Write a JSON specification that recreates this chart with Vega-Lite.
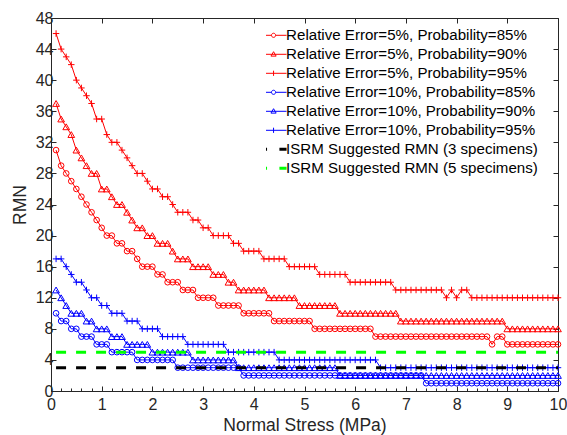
{
  "$schema": "https://vega.github.io/schema/vega-lite/v6.json",
  "width": 507,
  "height": 373,
  "autosize": "none",
  "padding": {"left": 51, "top": 18, "right": 9, "bottom": 44},
  "config": {
    "font": "Liberation Sans",
    "view": {"stroke": null},
    "axis": {"grid": false, "domainColor": "#262626", "tickColor": "#262626", "labelColor": "#262626", "titleColor": "#262626", "labelFontSize": 16, "titleFontSize": 17.5, "titleFontWeight": "normal", "domainWidth": 1, "tickWidth": 1}
  },
  "datasets": {
    "curves": [
      {"x":0.1,"r85":31,"r90":37,"r95":46,"b85":10,"b90":13,"b95":17},
      {"x":0.2,"r85":29,"r90":35,"r95":44,"b85":9,"b90":12,"b95":17},
      {"x":0.3,"r85":28,"r90":34,"r95":43,"b85":9,"b90":11,"b95":16},
      {"x":0.4,"r85":27,"r90":33,"r95":42,"b85":8,"b90":10,"b95":15},
      {"x":0.5,"r85":26,"r90":31,"r95":40,"b85":8,"b90":10,"b95":14},
      {"x":0.6,"r85":25,"r90":30,"r95":39,"b85":7,"b90":10,"b95":14},
      {"x":0.7,"r85":24,"r90":29,"r95":38,"b85":7,"b90":9,"b95":13},
      {"x":0.8,"r85":23,"r90":28,"r95":37,"b85":7,"b90":9,"b95":12},
      {"x":0.9,"r85":22,"r90":28,"r95":35,"b85":6,"b90":8,"b95":12},
      {"x":1.0,"r85":21,"r90":26,"r95":35,"b85":6,"b90":8,"b95":11},
      {"x":1.1,"r85":20,"r90":26,"r95":33,"b85":6,"b90":8,"b95":11},
      {"x":1.2,"r85":20,"r90":25,"r95":32,"b85":5,"b90":7,"b95":10},
      {"x":1.3,"r85":19,"r90":24,"r95":32,"b85":5,"b90":7,"b95":10},
      {"x":1.4,"r85":19,"r90":24,"r95":31,"b85":5,"b90":7,"b95":10},
      {"x":1.5,"r85":18,"r90":23,"r95":30,"b85":5,"b90":6,"b95":9},
      {"x":1.6,"r85":18,"r90":22,"r95":29,"b85":5,"b90":6,"b95":9},
      {"x":1.7,"r85":17,"r90":21,"r95":28,"b85":4,"b90":6,"b95":9},
      {"x":1.8,"r85":16,"r90":21,"r95":28,"b85":4,"b90":6,"b95":8},
      {"x":1.9,"r85":16,"r90":20,"r95":27,"b85":4,"b90":6,"b95":8},
      {"x":2.0,"r85":16,"r90":20,"r95":26,"b85":4,"b90":5,"b95":8},
      {"x":2.1,"r85":15,"r90":19,"r95":26,"b85":4,"b90":5,"b95":8},
      {"x":2.2,"r85":15,"r90":19,"r95":25,"b85":4,"b90":5,"b95":7},
      {"x":2.3,"r85":14,"r90":19,"r95":25,"b85":4,"b90":5,"b95":7},
      {"x":2.4,"r85":14,"r90":18,"r95":24,"b85":4,"b90":5,"b95":7},
      {"x":2.5,"r85":14,"r90":17,"r95":23,"b85":3,"b90":5,"b95":7},
      {"x":2.6,"r85":13,"r90":17,"r95":23,"b85":3,"b90":5,"b95":7},
      {"x":2.7,"r85":13,"r90":17,"r95":23,"b85":3,"b90":5,"b95":6},
      {"x":2.8,"r85":13,"r90":16,"r95":22,"b85":3,"b90":4,"b95":6},
      {"x":2.9,"r85":12,"r90":16,"r95":22,"b85":3,"b90":4,"b95":6},
      {"x":3.0,"r85":12,"r90":16,"r95":21,"b85":3,"b90":4,"b95":6},
      {"x":3.1,"r85":12,"r90":16,"r95":21,"b85":3,"b90":4,"b95":6},
      {"x":3.2,"r85":12,"r90":15,"r95":20,"b85":3,"b90":4,"b95":6},
      {"x":3.3,"r85":11,"r90":15,"r95":20,"b85":3,"b90":4,"b95":6},
      {"x":3.4,"r85":11,"r90":15,"r95":20,"b85":3,"b90":4,"b95":6},
      {"x":3.5,"r85":11,"r90":14,"r95":20,"b85":3,"b90":4,"b95":5},
      {"x":3.6,"r85":11,"r90":14,"r95":19,"b85":3,"b90":4,"b95":5},
      {"x":3.7,"r85":11,"r90":13,"r95":19,"b85":3,"b90":3,"b95":5},
      {"x":3.8,"r85":10,"r90":13,"r95":18,"b85":2,"b90":3,"b95":5},
      {"x":3.9,"r85":10,"r90":13,"r95":18,"b85":2,"b90":3,"b95":5},
      {"x":4.0,"r85":10,"r90":13,"r95":18,"b85":2,"b90":3,"b95":5},
      {"x":4.1,"r85":10,"r90":13,"r95":18,"b85":2,"b90":3,"b95":5},
      {"x":4.2,"r85":10,"r90":13,"r95":17,"b85":2,"b90":3,"b95":5},
      {"x":4.3,"r85":10,"r90":12,"r95":17,"b85":2,"b90":3,"b95":5},
      {"x":4.4,"r85":9,"r90":12,"r95":17,"b85":2,"b90":3,"b95":5},
      {"x":4.5,"r85":9,"r90":12,"r95":17,"b85":2,"b90":3,"b95":4},
      {"x":4.6,"r85":9,"r90":12,"r95":17,"b85":2,"b90":3,"b95":4},
      {"x":4.7,"r85":9,"r90":12,"r95":16,"b85":2,"b90":3,"b95":4},
      {"x":4.8,"r85":9,"r90":12,"r95":16,"b85":2,"b90":3,"b95":4},
      {"x":4.9,"r85":9,"r90":11,"r95":16,"b85":2,"b90":3,"b95":4},
      {"x":5.0,"r85":9,"r90":11,"r95":16,"b85":2,"b90":3,"b95":4},
      {"x":5.1,"r85":9,"r90":11,"r95":16,"b85":2,"b90":3,"b95":4},
      {"x":5.2,"r85":8,"r90":11,"r95":16,"b85":2,"b90":3,"b95":4},
      {"x":5.3,"r85":8,"r90":11,"r95":15,"b85":2,"b90":3,"b95":4},
      {"x":5.4,"r85":8,"r90":11,"r95":15,"b85":2,"b90":3,"b95":4},
      {"x":5.5,"r85":8,"r90":11,"r95":15,"b85":2,"b90":3,"b95":4},
      {"x":5.6,"r85":8,"r90":11,"r95":15,"b85":2,"b90":3,"b95":4},
      {"x":5.7,"r85":8,"r90":10,"r95":15,"b85":2,"b90":2,"b95":4},
      {"x":5.8,"r85":8,"r90":10,"r95":15,"b85":2,"b90":2,"b95":4},
      {"x":5.9,"r85":8,"r90":10,"r95":14,"b85":2,"b90":2,"b95":4},
      {"x":6.0,"r85":8,"r90":10,"r95":14,"b85":2,"b90":2,"b95":4},
      {"x":6.1,"r85":8,"r90":10,"r95":14,"b85":2,"b90":2,"b95":4},
      {"x":6.2,"r85":8,"r90":10,"r95":14,"b85":2,"b90":2,"b95":4},
      {"x":6.3,"r85":8,"r90":10,"r95":14,"b85":2,"b90":2,"b95":4},
      {"x":6.4,"r85":7,"r90":10,"r95":14,"b85":2,"b90":2,"b95":4},
      {"x":6.5,"r85":7,"r90":10,"r95":14,"b85":2,"b90":2,"b95":3},
      {"x":6.6,"r85":7,"r90":10,"r95":14,"b85":2,"b90":2,"b95":3},
      {"x":6.7,"r85":7,"r90":10,"r95":14,"b85":2,"b90":2,"b95":3},
      {"x":6.8,"r85":7,"r90":10,"r95":13,"b85":2,"b90":2,"b95":3},
      {"x":6.9,"r85":7,"r90":9,"r95":13,"b85":2,"b90":2,"b95":3},
      {"x":7.0,"r85":7,"r90":9,"r95":13,"b85":2,"b90":2,"b95":3},
      {"x":7.1,"r85":7,"r90":9,"r95":13,"b85":2,"b90":2,"b95":3},
      {"x":7.2,"r85":7,"r90":9,"r95":13,"b85":2,"b90":2,"b95":3},
      {"x":7.3,"r85":7,"r90":9,"r95":13,"b85":2,"b90":2,"b95":3},
      {"x":7.4,"r85":7,"r90":9,"r95":13,"b85":1,"b90":2,"b95":3},
      {"x":7.5,"r85":7,"r90":9,"r95":13,"b85":1,"b90":2,"b95":3},
      {"x":7.6,"r85":7,"r90":9,"r95":13,"b85":1,"b90":2,"b95":3},
      {"x":7.7,"r85":7,"r90":9,"r95":13,"b85":1,"b90":2,"b95":3},
      {"x":7.8,"r85":7,"r90":9,"r95":12,"b85":1,"b90":2,"b95":3},
      {"x":7.9,"r85":7,"r90":9,"r95":13,"b85":1,"b90":2,"b95":3},
      {"x":8.0,"r85":7,"r90":9,"r95":12,"b85":1,"b90":2,"b95":3},
      {"x":8.1,"r85":7,"r90":9,"r95":13,"b85":1,"b90":2,"b95":3},
      {"x":8.2,"r85":7,"r90":9,"r95":13,"b85":1,"b90":2,"b95":3},
      {"x":8.3,"r85":7,"r90":9,"r95":12,"b85":1,"b90":2,"b95":3},
      {"x":8.4,"r85":7,"r90":9,"r95":12,"b85":1,"b90":2,"b95":3},
      {"x":8.5,"r85":7,"r90":9,"r95":12,"b85":1,"b90":2,"b95":3},
      {"x":8.6,"r85":7,"r90":9,"r95":12,"b85":1,"b90":2,"b95":3},
      {"x":8.7,"r85":6,"r90":9,"r95":12,"b85":1,"b90":2,"b95":3},
      {"x":8.8,"r85":7,"r90":9,"r95":12,"b85":1,"b90":2,"b95":3},
      {"x":8.9,"r85":7,"r90":9,"r95":12,"b85":1,"b90":2,"b95":3},
      {"x":9.0,"r85":6,"r90":8,"r95":12,"b85":1,"b90":2,"b95":3},
      {"x":9.1,"r85":6,"r90":8,"r95":12,"b85":1,"b90":2,"b95":3},
      {"x":9.2,"r85":6,"r90":8,"r95":12,"b85":1,"b90":2,"b95":3},
      {"x":9.3,"r85":6,"r90":8,"r95":12,"b85":1,"b90":2,"b95":3},
      {"x":9.4,"r85":6,"r90":8,"r95":12,"b85":1,"b90":2,"b95":3},
      {"x":9.5,"r85":6,"r90":8,"r95":12,"b85":1,"b90":2,"b95":3},
      {"x":9.6,"r85":6,"r90":8,"r95":12,"b85":1,"b90":2,"b95":3},
      {"x":9.7,"r85":6,"r90":8,"r95":12,"b85":1,"b90":2,"b95":3},
      {"x":9.8,"r85":6,"r90":8,"r95":12,"b85":1,"b90":2,"b95":3},
      {"x":9.9,"r85":6,"r90":8,"r95":12,"b85":1,"b90":2,"b95":3},
      {"x":10.0,"r85":6,"r90":8,"r95":12,"b85":1,"b90":2,"b95":3}
    ],
    "isrm": [
      {"series":"i3","x":0.1,"rmn":3},
      {"series":"i3","x":10,"rmn":3},
      {"series":"i5","x":0.1,"rmn":5},
      {"series":"i5","x":10,"rmn":5}
    ]
  },
  "resolve": {"axis": {"x": "independent", "y": "independent"}},
  "layer": [
    {
      "data": {"name": "curves"},
      "transform": [{"fold": ["r85","r90","r95","b85","b90","b95"], "as": ["series","rmn"]}],
      "mark": {"type": "line", "strokeWidth": 1},
      "encoding": {
        "x": {"field": "x", "type": "quantitative", "scale": {"domain": [0, 10], "nice": false},
          "axis": {"orient": "bottom", "title": "Normal Stress (MPa)", "values": [0,0.2,0.4,0.6,0.8,1,1.2,1.4,1.6,1.8,2,2.2,2.4,2.6,2.8,3,3.2,3.4,3.6,3.8,4,4.2,4.4,4.6,4.8,5,5.2,5.4,5.6,5.8,6,6.2,6.4,6.6,6.8,7,7.2,7.4,7.6,7.8,8,8.2,8.4,8.6,8.8,9,9.2,9.4,9.6,9.8,10],
            "labelExpr": "round(datum.value) == datum.value ? format(datum.value, 'd') : ''",
            "labelOverlap": false, "labelFlush": false,
            "tickSize": {"condition": {"test": "round(datum.value) == datum.value", "value": -5}, "value": -3},
            "labelPadding": 10, "titlePadding": 2}},
        "y": {"field": "rmn", "type": "quantitative", "scale": {"domain": [0, 48], "nice": false},
          "axis": {"orient": "left", "title": "RMN", "values": [0,4,8,12,16,20,24,28,32,36,40,44,48], "tickSize": -5, "labelPadding": 3, "titlePadding": 6}},
        "color": {"field": "series", "type": "nominal",
          "scale": {"domain": ["r85","r90","r95","b85","b90","b95","i3","i5"], "range": ["#ff0000","#ff0000","#ff0000","#0000ff","#0000ff","#0000ff","#000000","#00ff00"]},
          "legend": {
            "orient": "none", "legendX": 215, "legendY": 8, "title": null,
            "labelExpr": "datum.value == 'r85' ? 'Relative Error=5%, Probability=85%' : datum.value == 'r90' ? 'Relative Error=5%, Probability=90%' : datum.value == 'r95' ? 'Relative Error=5%, Probability=95%' : datum.value == 'b85' ? 'Relative Error=10%, Probability=85%' : datum.value == 'b90' ? 'Relative Error=10%, Probability=90%' : datum.value == 'b95' ? 'Relative Error=10%, Probability=95%' : datum.value == 'i3' ? 'ISRM Suggested RMN (3 specimens)' : 'ISRM Suggested RMN (5 specimens)'",
            "labelFontSize": 15.1, "labelColor": "#000000", "labelLimit": 400,
            "symbolSize": 676, "symbolStrokeWidth": 1, "clipHeight": 18.6, "rowPadding": 0,
            "labelOffset": 5, "symbolOffset": 0, "padding": 0, "offset": 0,
            "encode": {"symbols": {"update": {
              "shape": {"signal": "(datum.value == 'i3' || datum.value == 'i5') ? 'M-1,0H-0.5M0.45,0H1' : substring(datum.value, 1) == '85' ? 'M-1,0H-0.16M0.16,0H1M-0.16,0A0.16,0.16 0 1,0 0.16,0A0.16,0.16 0 1,0 -0.16,0' : substring(datum.value, 1) == '90' ? 'M-1,0H1M0,-0.2L0.2,0.14L-0.2,0.14Z' : 'M-1,0H1M0,-0.2V0.2'"},
              "strokeWidth": {"signal": "(datum.value == 'i3' || datum.value == 'i5') ? 3 : 1"},
              "fill": {"value": "transparent"}
            }}}
          }}
      }
    },
    {
      "data": {"name": "curves"},
      "transform": [{"fold": ["r85","r90","r95","b85","b90","b95"], "as": ["series","rmn"]}],
      "mark": {"type": "point", "filled": false, "strokeWidth": 1, "opacity": 1},
      "encoding": {
        "x": {"field": "x", "type": "quantitative", "axis": null},
        "y": {"field": "rmn", "type": "quantitative", "axis": null},
        "color": {"field": "series", "type": "nominal"},
        "shape": {"field": "series", "type": "nominal", "legend": null,
          "scale": {"domain": ["r85","r90","r95","b85","b90","b95"], "range": ["circle","triangle-up","M-1,0H1M0,-1V1","circle","triangle-up","M-1,0H1M0,-1V1"]}},
        "size": {"field": "series", "type": "nominal", "legend": null,
          "scale": {"type": "ordinal", "domain": ["r85","r90","r95","b85","b90","b95"], "range": [32, 45, 42, 32, 45, 42]}}
      }
    },
    {
      "data": {"name": "isrm"},
      "mark": {"type": "line", "strokeWidth": 3, "strokeDash": [10, 10], "strokeCap": "butt"},
      "encoding": {
        "x": {"field": "x", "type": "quantitative",
          "axis": {"orient": "top", "title": null, "labels": false, "values": [0,1,2,3,4,5,6,7,8,9,10], "tickSize": -5}},
        "y": {"field": "rmn", "type": "quantitative",
          "axis": {"orient": "right", "title": null, "labels": false, "values": [0,4,8,12,16,20,24,28,32,36,40,44,48], "tickSize": -5}},
        "color": {"field": "series", "type": "nominal"}
      }
    }
  ]
}
